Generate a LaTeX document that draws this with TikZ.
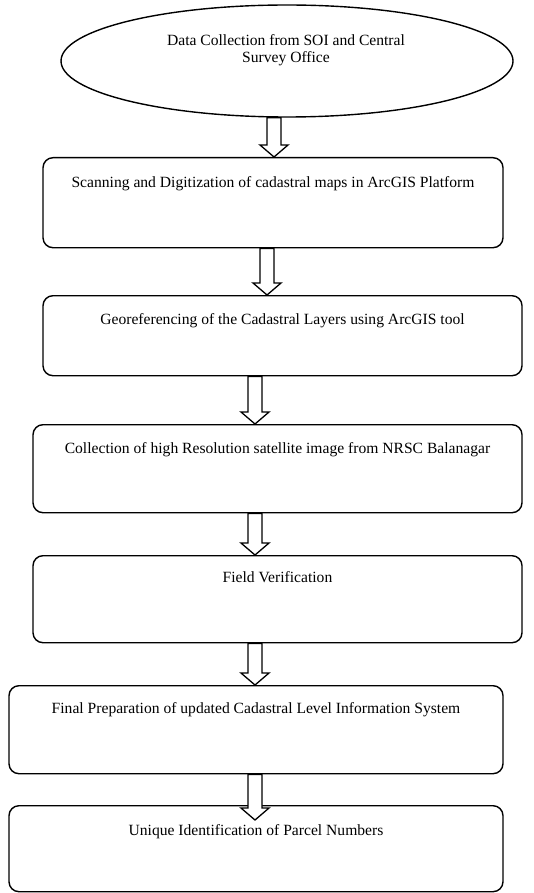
\documentclass[tikz,border=0pt]{standalone}
\usepackage{fontspec}
\setmainfont{Liberation Serif}
\usetikzlibrary{shapes.geometric,calc}
\tikzset{
  flowbox/.style={draw, line width=1.4pt, rounded corners=10pt, inner xsep=0pt, inner ysep=0pt,
    anchor=north, align=center, font=\fontsize{15.6}{17}\selectfont},
  blockarr/.style={draw, line width=1.3pt, fill=white, line join=miter},
  startoval/.style={draw, ellipse, line width=1.4pt, inner sep=0pt}
}
\newcommand\blockarrow[4]{% #1 x (px), #2 from node, #3 to node, #4 extra depth of tip
  \draw[blockarr] let \p1=(#2.south), \p2=(#3.north) in
    ({#1pt-7pt},{\y1}) -- ({#1pt-7pt},{\y2-#4pt+12pt}) -- ({#1pt-14pt},{\y2-#4pt+12pt})
    -- ({#1pt},{\y2-#4pt}) -- ({#1pt+14pt},{\y2-#4pt+12pt}) -- ({#1pt+7pt},{\y2-#4pt+12pt})
    -- ({#1pt+7pt},{\y1}) -- cycle;}
\begin{document}
\begin{tikzpicture}[x=1pt,y=-1pt]
\useasboundingbox (0,0) rectangle (534,893);
% start oval
\node[startoval, minimum width=452pt, minimum height=112pt] (e) at (287,61) {};
\node[align=center, font=\fontsize{15.6}{17}\selectfont, inner sep=0pt] (et) at (286,50)
  {Data Collection from SOI and Central\\Survey Office};
% boxes
\node[flowbox, minimum width=460pt, text height=30pt, text depth=60pt] (b1) at (273,157)
  {Scanning and Digitization of cadastral maps in ArcGIS Platform};
\node[flowbox, minimum width=479pt, text height=29pt, text depth=51pt] (b2) at (282.5,295)
  {Georeferencing of the Cadastral Layers using ArcGIS tool};
\node[flowbox, minimum width=489pt, text height=29pt, text depth=59pt] (b3) at (277.5,424)
  {Collection of high Resolution satellite image from NRSC Balanagar};
\node[flowbox, minimum width=489pt, text height=27pt, text depth=60pt] (b4) at (277.5,555)
  {Field Verification};
\node[flowbox, minimum width=494pt, text height=28pt, text depth=60pt] (b5) at (256,685)
  {Final Preparation of updated Cadastral Level Information System};
\node[flowbox, minimum width=494pt, text height=30pt, text depth=56pt] (b6) at (256,805)
  {Unique Identification of Parcel Numbers};
% block arrows
\blockarrow{274}{e}{b1}{0}
\blockarrow{267}{b1}{b2}{0}
\blockarrow{255}{b2}{b3}{0}
\blockarrow{255}{b3}{b4}{0}
\blockarrow{255}{b4}{b5}{0}
\blockarrow{255}{b5}{b6}{15}
\end{tikzpicture}
\end{document}
